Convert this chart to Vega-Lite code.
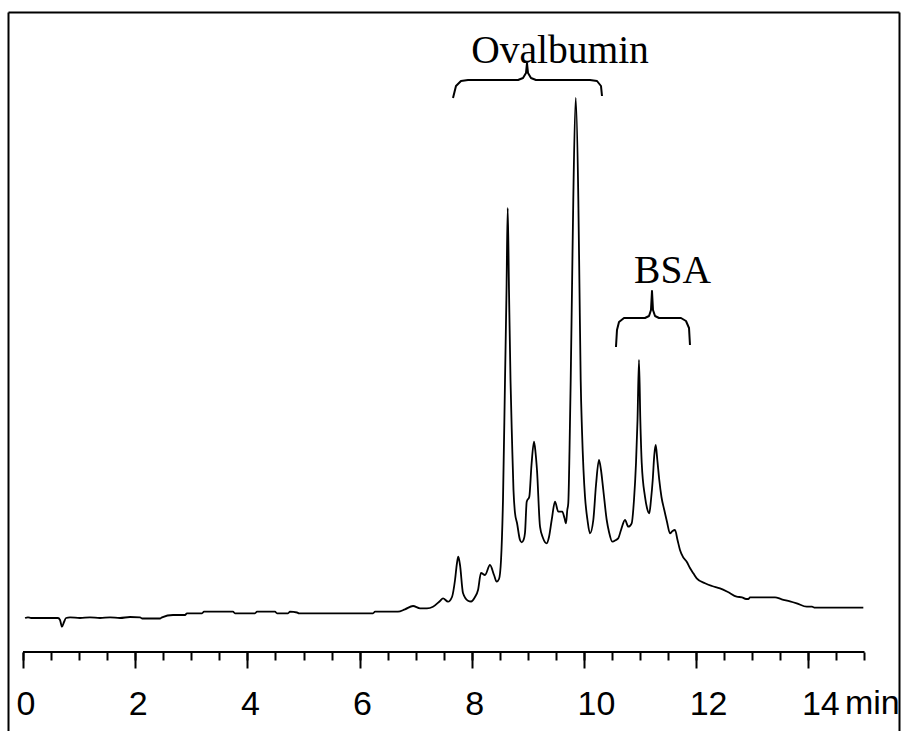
{
  "$schema": "https://vega.github.io/schema/vega-lite/v6.json",
  "width": 891,
  "height": 719,
  "autosize": {"type": "none"},
  "padding": {"left": 8, "top": 12, "right": 2, "bottom": 0},
  "background": "white",
  "config": {
    "view": {"stroke": null},
    "axis": {"grid": false, "domainColor": "black", "tickColor": "black", "labelColor": "black", "titleColor": "black"}
  },
  "datasets": {
    "trace": [
      {"t": 0.036, "v": 0}, {"t": 0.089, "v": 0.7}, {"t": 0.143, "v": 0}, {"t": 0.624, "v": 0},
      {"t": 0.66, "v": -2}, {"t": 0.695, "v": -8.7}, {"t": 0.731, "v": -4}, {"t": 0.767, "v": 0},
      {"t": 0.838, "v": 0.7}, {"t": 1.016, "v": 0}, {"t": 1.194, "v": 0.7}, {"t": 1.373, "v": 0},
      {"t": 1.551, "v": 0.7}, {"t": 1.729, "v": 0}, {"t": 1.907, "v": 1}, {"t": 2.086, "v": 0.7},
      {"t": 2.121, "v": -0.5}, {"t": 2.442, "v": -0.5}, {"t": 2.478, "v": 0.7}, {"t": 2.674, "v": 3},
      {"t": 2.888, "v": 3}, {"t": 2.923, "v": 4.7}, {"t": 3.191, "v": 4.7}, {"t": 3.226, "v": 6.3},
      {"t": 3.743, "v": 6.3}, {"t": 3.779, "v": 4.7}, {"t": 4.135, "v": 4.7}, {"t": 4.171, "v": 6.3},
      {"t": 4.492, "v": 6.3}, {"t": 4.528, "v": 4.7}, {"t": 4.724, "v": 4.7}, {"t": 4.759, "v": 6.3},
      {"t": 4.884, "v": 5.5}, {"t": 4.92, "v": 4.7}, {"t": 6.239, "v": 4.7}, {"t": 6.275, "v": 6.3},
      {"t": 6.684, "v": 6.3}, {"t": 6.809, "v": 8.7}, {"t": 6.952, "v": 12}, {"t": 7.077, "v": 9.7},
      {"t": 7.201, "v": 9.7}, {"t": 7.308, "v": 11.3}, {"t": 7.433, "v": 17}, {"t": 7.487, "v": 19.7},
      {"t": 7.576, "v": 16.3}, {"t": 7.647, "v": 21}, {"t": 7.701, "v": 38}, {"t": 7.736, "v": 55},
      {"t": 7.759, "v": 61.3}, {"t": 7.79, "v": 53}, {"t": 7.843, "v": 25}, {"t": 7.932, "v": 17.3},
      {"t": 7.986, "v": 16.5}, {"t": 8.057, "v": 21}, {"t": 8.111, "v": 28}, {"t": 8.164, "v": 45},
      {"t": 8.235, "v": 43}, {"t": 8.324, "v": 53}, {"t": 8.396, "v": 43}, {"t": 8.444, "v": 36.3},
      {"t": 8.485, "v": 39}, {"t": 8.521, "v": 58}, {"t": 8.556, "v": 118}, {"t": 8.592, "v": 238},
      {"t": 8.619, "v": 328}, {"t": 8.64, "v": 410}, {"t": 8.663, "v": 328}, {"t": 8.69, "v": 238},
      {"t": 8.717, "v": 178}, {"t": 8.743, "v": 128}, {"t": 8.77, "v": 105}, {"t": 8.806, "v": 95},
      {"t": 8.859, "v": 78}, {"t": 8.89, "v": 75.7}, {"t": 8.922, "v": 78}, {"t": 8.948, "v": 85},
      {"t": 8.979, "v": 116.3}, {"t": 9.025, "v": 121.3}, {"t": 9.064, "v": 153}, {"t": 9.109, "v": 176.3},
      {"t": 9.135, "v": 166}, {"t": 9.162, "v": 148}, {"t": 9.216, "v": 91.3}, {"t": 9.269, "v": 80},
      {"t": 9.335, "v": 74.7}, {"t": 9.376, "v": 81}, {"t": 9.424, "v": 98}, {"t": 9.483, "v": 116.3},
      {"t": 9.542, "v": 106.3}, {"t": 9.613, "v": 106.3}, {"t": 9.652, "v": 100}, {"t": 9.679, "v": 94.7},
      {"t": 9.702, "v": 108}, {"t": 9.72, "v": 115}, {"t": 9.742, "v": 168}, {"t": 9.763, "v": 238},
      {"t": 9.786, "v": 328}, {"t": 9.809, "v": 418}, {"t": 9.852, "v": 520}, {"t": 9.899, "v": 418},
      {"t": 9.92, "v": 328}, {"t": 9.941, "v": 238}, {"t": 9.964, "v": 188}, {"t": 9.991, "v": 148},
      {"t": 10.018, "v": 121.3}, {"t": 10.062, "v": 98}, {"t": 10.107, "v": 84.7}, {"t": 10.166, "v": 98},
      {"t": 10.214, "v": 133}, {"t": 10.267, "v": 158}, {"t": 10.303, "v": 148}, {"t": 10.344, "v": 128},
      {"t": 10.405, "v": 98}, {"t": 10.446, "v": 86}, {"t": 10.504, "v": 76.3}, {"t": 10.57, "v": 78},
      {"t": 10.611, "v": 79.7}, {"t": 10.66, "v": 88}, {"t": 10.731, "v": 98}, {"t": 10.79, "v": 91.3},
      {"t": 10.85, "v": 94.7}, {"t": 10.891, "v": 118}, {"t": 10.927, "v": 155}, {"t": 10.954, "v": 198},
      {"t": 10.98, "v": 258}, {"t": 11.004, "v": 198}, {"t": 11.029, "v": 155}, {"t": 11.087, "v": 121.3},
      {"t": 11.123, "v": 110}, {"t": 11.164, "v": 104.7}, {"t": 11.194, "v": 118}, {"t": 11.225, "v": 138},
      {"t": 11.253, "v": 163}, {"t": 11.278, "v": 173}, {"t": 11.307, "v": 158}, {"t": 11.342, "v": 138},
      {"t": 11.381, "v": 121}, {"t": 11.431, "v": 108}, {"t": 11.48, "v": 96}, {"t": 11.533, "v": 84.7},
      {"t": 11.578, "v": 87}, {"t": 11.622, "v": 88}, {"t": 11.667, "v": 78}, {"t": 11.711, "v": 68},
      {"t": 11.765, "v": 61}, {"t": 11.831, "v": 56.3}, {"t": 11.889, "v": 50}, {"t": 11.949, "v": 44.7},
      {"t": 12.009, "v": 39.7}, {"t": 12.157, "v": 34.7}, {"t": 12.282, "v": 32}, {"t": 12.424, "v": 29.7},
      {"t": 12.567, "v": 26}, {"t": 12.722, "v": 21.3}, {"t": 12.816, "v": 20.7}, {"t": 12.888, "v": 19},
      {"t": 12.929, "v": 19}, {"t": 12.959, "v": 20.7}, {"t": 13.405, "v": 20.7}, {"t": 13.524, "v": 18.7},
      {"t": 13.672, "v": 16.7}, {"t": 13.792, "v": 14.7}, {"t": 13.97, "v": 11.3}, {"t": 14.064, "v": 11.3},
      {"t": 14.118, "v": 10.3}, {"t": 14.237, "v": 10.3}, {"t": 14.979, "v": 10.3}
    ],
    "braces": [
      {"g": "oval", "t": 7.665, "v": 520}, {"g": "oval", "t": 7.718, "v": 532}, {"g": "oval", "t": 7.807, "v": 537},
      {"g": "oval", "t": 7.932, "v": 538}, {"g": "oval", "t": 8.824, "v": 538}, {"g": "oval", "t": 8.913, "v": 540},
      {"g": "oval", "t": 8.966, "v": 545}, {"g": "oval", "t": 8.984, "v": 555}, {"g": "oval", "t": 9.002, "v": 545},
      {"g": "oval", "t": 9.055, "v": 540}, {"g": "oval", "t": 9.144, "v": 538}, {"g": "oval", "t": 10.107, "v": 538},
      {"g": "oval", "t": 10.232, "v": 537}, {"g": "oval", "t": 10.303, "v": 532}, {"g": "oval", "t": 10.321, "v": 522},
      {"g": "bsa", "t": 10.57, "v": 271}, {"g": "bsa", "t": 10.588, "v": 288}, {"g": "bsa", "t": 10.624, "v": 296},
      {"g": "bsa", "t": 10.713, "v": 300}, {"g": "bsa", "t": 11.087, "v": 300}, {"g": "bsa", "t": 11.159, "v": 302},
      {"g": "bsa", "t": 11.194, "v": 308}, {"g": "bsa", "t": 11.212, "v": 327}, {"g": "bsa", "t": 11.23, "v": 308},
      {"g": "bsa", "t": 11.266, "v": 302}, {"g": "bsa", "t": 11.337, "v": 300}, {"g": "bsa", "t": 11.729, "v": 300},
      {"g": "bsa", "t": 11.818, "v": 297}, {"g": "bsa", "t": 11.872, "v": 290}, {"g": "bsa", "t": 11.889, "v": 273}
    ],
    "names": [
      {"label": "Ovalbumin", "t": 9.572, "v": 555},
      {"label": "BSA", "t": 11.578, "v": 335}
    ],
    "unit": [
      {"label": "min", "t": 14.652, "v": -96}
    ]
  },
  "layer": [
    {
      "data": {"name": "trace"},
      "mark": {"type": "line", "color": "black", "strokeWidth": 1.8, "strokeJoin": "round", "interpolate": "monotone"},
      "encoding": {
        "x": {
          "field": "t", "type": "quantitative",
          "scale": {"domain": [-0.2674, 15.615], "nice": false, "zero": false},
          "axis": {
            "orient": "bottom", "offset": -79, "values": [0, 2, 4, 6, 8, 10, 12, 14],
            "domain": false, "tickSize": 16, "tickWidth": 2, "labelFontSize": 34,
            "labelFont": "Liberation Sans", "labelAlign": "left", "labelOffset": -7,
            "labelBaseline": "alphabetic", "labelPadding": 46, "labelFlush": false,
            "labelOverlap": false, "title": null, "format": "d"
          }
        },
        "y": {
          "field": "v", "type": "quantitative",
          "scale": {"domain": [-113, 606], "nice": false, "zero": false},
          "axis": {"orient": "left", "domain": true, "domainWidth": 2, "ticks": false, "labels": false, "title": null}
        }
      }
    },
    {
      "data": {"name": "braces"},
      "mark": {"type": "line", "color": "black", "strokeWidth": 2, "strokeJoin": "round"},
      "encoding": {
        "x": {"field": "t", "type": "quantitative",
              "axis": {"orient": "top", "domain": true, "domainWidth": 2, "ticks": false, "labels": false, "title": null}},
        "y": {"field": "v", "type": "quantitative",
              "axis": {"orient": "right", "domain": true, "domainWidth": 2, "ticks": false, "labels": false, "title": null}},
        "detail": {"field": "g"}
      }
    },
    {
      "data": {"name": "names"},
      "mark": {"type": "text", "font": "Liberation Serif", "fontSize": 39.5, "align": "center", "baseline": "alphabetic", "color": "black"},
      "encoding": {
        "x": {"field": "t", "type": "quantitative",
              "axis": {"orient": "bottom", "offset": -79,
                       "values": [0, 0.5, 1, 1.5, 2, 2.5, 3, 3.5, 4, 4.5, 5, 5.5, 6, 6.5, 7, 7.5, 8, 8.5, 9, 9.5, 10, 10.5, 11, 11.5, 12, 12.5, 13, 13.5, 14, 14.5, 15],
                       "domain": false, "tickSize": 8, "tickWidth": 2, "labels": false, "title": null}},
        "y": {"field": "v", "type": "quantitative", "axis": null},
        "text": {"field": "label"}
      }
    },
    {
      "data": {"name": "unit"},
      "mark": {"type": "text", "font": "Liberation Sans", "fontSize": 34, "align": "left", "baseline": "alphabetic", "color": "black"},
      "encoding": {
        "x": {"field": "t", "type": "quantitative", "axis": null},
        "y": {"field": "v", "type": "quantitative", "axis": null},
        "text": {"field": "label"}
      }
    },
    {
      "data": {"values": [{}]},
      "mark": {"type": "rule", "color": "black", "strokeWidth": 2},
      "encoding": {
        "x": {"datum": 0, "type": "quantitative", "axis": null},
        "x2": {"datum": 15},
        "y": {"datum": -34, "type": "quantitative", "axis": null}
      }
    }
  ],
  "resolve": {"axis": {"x": "independent", "y": "independent"}}
}
